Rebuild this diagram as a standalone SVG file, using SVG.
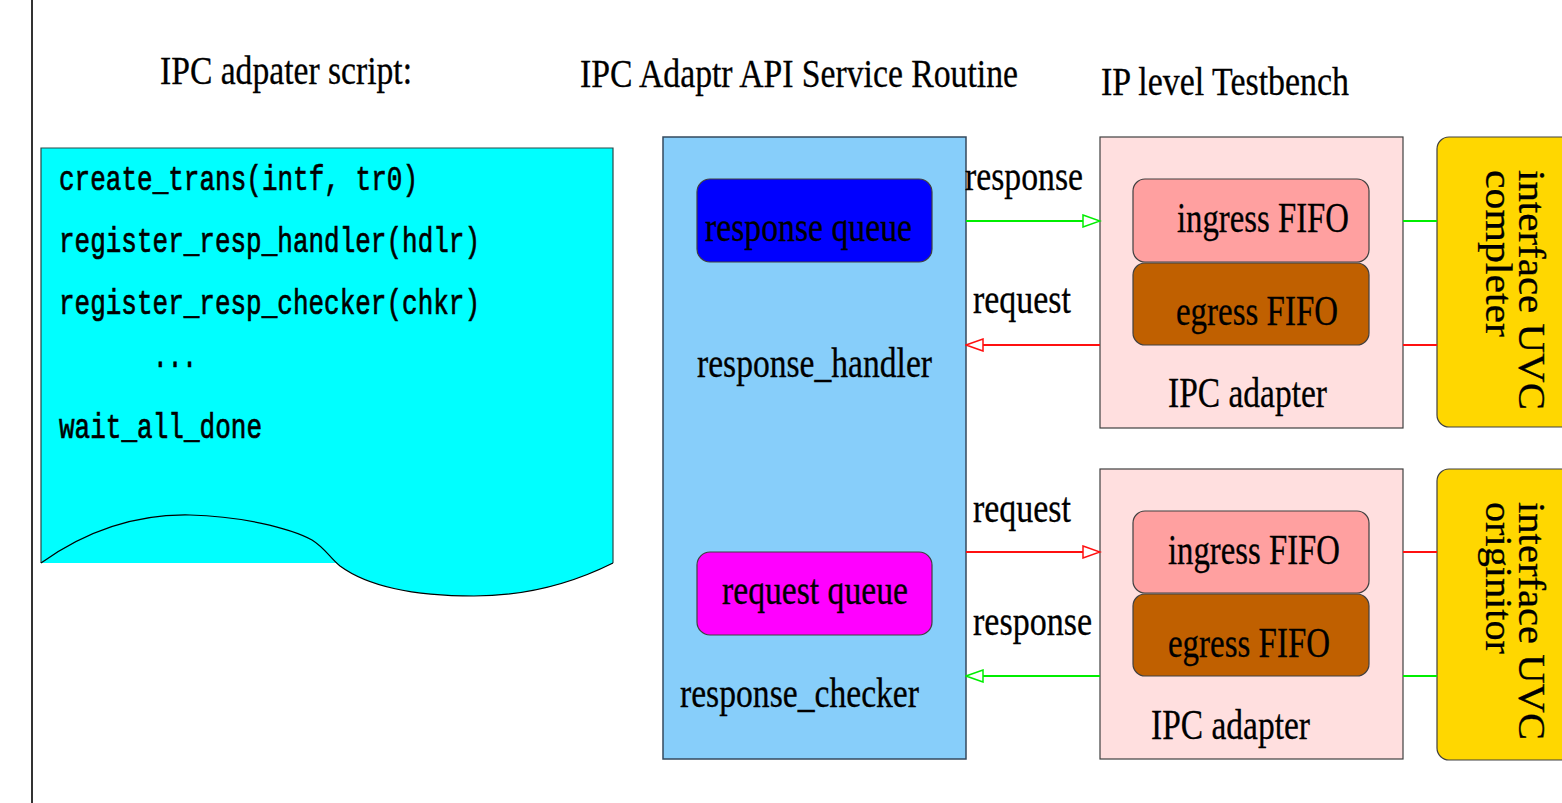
<svg xmlns="http://www.w3.org/2000/svg" width="1562" height="803" viewBox="0 0 1562 803">
<style>
.t{font-family:"Liberation Serif","Times New Roman",serif;font-size:42px;fill:#000;stroke:#000;stroke-width:0.3}
.ti{font-family:"Liberation Serif","Times New Roman",serif;font-size:39px;fill:#000;stroke:#000;stroke-width:0.3}
.m{font-family:"Liberation Mono","DejaVu Sans Mono",monospace;font-size:35px;fill:#000;stroke:#000;stroke-width:0.7}
.box{stroke:#404040;stroke-width:1.2}
.g{stroke:#00ee00;stroke-width:2;fill:none}
.r{stroke:#ff1010;stroke-width:2;fill:none}
</style>
<defs>
<marker id="hg" markerUnits="userSpaceOnUse" markerWidth="20" markerHeight="14" refX="17" refY="6" orient="auto" viewBox="-1 -1 19 14">
<path d="M0,0 L17,6 L0,12 Z" fill="#fff" stroke="#00ee00" stroke-width="1.5"/>
</marker>
<marker id="hr" markerUnits="userSpaceOnUse" markerWidth="20" markerHeight="14" refX="17" refY="6" orient="auto" viewBox="-1 -1 19 14">
<path d="M0,0 L17,6 L0,12 Z" fill="#fff" stroke="#ff1010" stroke-width="1.5"/>
</marker>
</defs>
<rect width="1562" height="803" fill="#fff"/>
<line x1="32" y1="0" x2="32" y2="803" stroke="#333" stroke-width="2"/>

<g id="titles">
<text class="ti" x="160" y="84" textLength="252" lengthAdjust="spacingAndGlyphs">IPC adpater script:</text>
<text class="ti" x="580" y="87" textLength="438" lengthAdjust="spacingAndGlyphs">IPC Adaptr API Service Routine</text>
<text class="ti" x="1101" y="95" textLength="248" lengthAdjust="spacingAndGlyphs">IP level Testbench</text>
</g>

<g id="script">
<path d="M41,148 H613 V563 C575,582 530,596 474,596 C420,596 370,588 340,566 L336,563 H41 Z" fill="#00ffff"/>
<path d="M41,563 V148 H613 V563" fill="none" stroke="#2a4a4a" stroke-width="1.2"/>
<path d="M41,563 C90,528 140,514 190,515 C240,516 290,528 312,540 C325,548 330,558 340,566 C370,588 420,596 474,596 C530,596 575,582 613,563" fill="none" stroke="#000" stroke-width="1.2"/>
<text class="m" x="59" y="190" textLength="359" lengthAdjust="spacingAndGlyphs">create_trans(intf, tr0)</text>
<text class="m" x="59" y="252" textLength="421" lengthAdjust="spacingAndGlyphs">register_resp_handler(hdlr)</text>
<text class="m" x="59" y="314" textLength="421" lengthAdjust="spacingAndGlyphs">register_resp_checker(chkr)</text>
<text class="m" x="153" y="367" textLength="44" lengthAdjust="spacingAndGlyphs">...</text>
<text class="m" x="59" y="438" textLength="203" lengthAdjust="spacingAndGlyphs">wait_all_done</text>
</g>

<g id="api">
<rect x="663" y="137" width="303" height="622" fill="#87cefa" stroke="#34495e" stroke-width="1.5"/>
<text class="t" x="697" y="377" textLength="235" lengthAdjust="spacingAndGlyphs">response_handler</text>
<text class="t" x="680" y="707" textLength="239" lengthAdjust="spacingAndGlyphs">response_checker</text>
</g>
<g id="response_queue">
<rect class="box" x="697" y="179" width="235" height="83" rx="13" fill="#0000ff"/>
<text class="t" x="705" y="241" textLength="207" lengthAdjust="spacingAndGlyphs">response queue</text>
</g>
<g id="request_queue">
<rect class="box" x="697" y="552" width="235" height="83" rx="13" fill="#ff00ff"/>
<text class="t" x="722" y="604" textLength="186" lengthAdjust="spacingAndGlyphs">request queue</text>
</g>

<g id="adapter_top">
<rect class="box" x="1100" y="137" width="303" height="291" fill="#ffdfdf"/>
<rect class="box" x="1133" y="179" width="236" height="83" rx="12" fill="#ffa0a0"/>
<rect class="box" x="1133" y="263" width="236" height="82" rx="12" fill="#c06000"/>
<text class="t" x="1177" y="232" textLength="172" lengthAdjust="spacingAndGlyphs">ingress FIFO</text>
<text class="t" x="1176" y="325" textLength="162" lengthAdjust="spacingAndGlyphs">egress FIFO</text>
<text class="t" x="1168" y="407" textLength="159" lengthAdjust="spacingAndGlyphs">IPC adapter</text>
</g>
<g id="adapter_bottom">
<rect class="box" x="1100" y="469" width="303" height="290" fill="#ffdfdf"/>
<rect class="box" x="1133" y="511" width="236" height="82" rx="12" fill="#ffa0a0"/>
<rect class="box" x="1133" y="594" width="236" height="82" rx="12" fill="#c06000"/>
<text class="t" x="1168" y="564" textLength="172" lengthAdjust="spacingAndGlyphs">ingress FIFO</text>
<text class="t" x="1168" y="657" textLength="162" lengthAdjust="spacingAndGlyphs">egress FIFO</text>
<text class="t" x="1151" y="739" textLength="159" lengthAdjust="spacingAndGlyphs">IPC adapter</text>
</g>

<g id="uvc_completer">
<rect class="box" x="1437" y="137" width="140" height="290" rx="12" fill="#ffd700"/>
<text class="t" transform="translate(1519,170) rotate(90)" textLength="240" lengthAdjust="spacingAndGlyphs" style="font-size:38px">interface UVC</text>
<text class="t" transform="translate(1486,170) rotate(90)" textLength="167" lengthAdjust="spacingAndGlyphs" style="font-size:38px">completer</text>
</g>
<g id="uvc_originitor">
<rect class="box" x="1437" y="469" width="140" height="291" rx="12" fill="#ffd700"/>
<text class="t" transform="translate(1519,502) rotate(90)" textLength="238" lengthAdjust="spacingAndGlyphs" style="font-size:38px">interface UVC</text>
<text class="t" transform="translate(1486,502) rotate(90)" textLength="152" lengthAdjust="spacingAndGlyphs" style="font-size:38px">originitor</text>
</g>

<g id="connectors">
<line class="g" x1="966" y1="221" x2="1100" y2="221" marker-end="url(#hg)"/>
<line class="r" x1="1100" y1="345" x2="966" y2="345" marker-end="url(#hr)"/>
<line class="r" x1="966" y1="552" x2="1100" y2="552" marker-end="url(#hr)"/>
<line class="g" x1="1100" y1="676" x2="966" y2="676" marker-end="url(#hg)"/>
<line class="g" x1="1403" y1="221" x2="1437" y2="221"/>
<line class="r" x1="1403" y1="345" x2="1437" y2="345"/>
<line class="r" x1="1403" y1="552" x2="1437" y2="552"/>
<line class="g" x1="1403" y1="676" x2="1437" y2="676"/>
<text class="t" x="965" y="190" textLength="118" lengthAdjust="spacingAndGlyphs">response</text>
<text class="t" x="973" y="313" textLength="98" lengthAdjust="spacingAndGlyphs">request</text>
<text class="t" x="973" y="522" textLength="98" lengthAdjust="spacingAndGlyphs">request</text>
<text class="t" x="973" y="635" textLength="119" lengthAdjust="spacingAndGlyphs">response</text>
</g>
</svg>
